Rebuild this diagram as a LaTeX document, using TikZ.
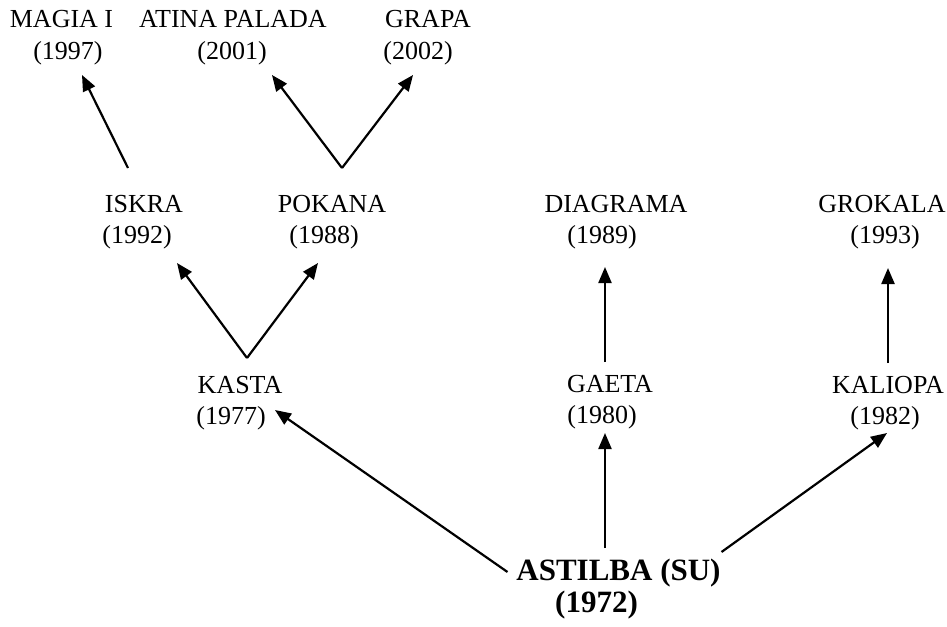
\documentclass[tikz,border=0pt]{standalone}
\usepackage{fontspec}
\setmainfont{Liberation Serif}
\usetikzlibrary{arrows.meta}

% two-line cultivar label: name, then year in parentheses;
% #3 moves the year line sideways (twice the wanted shift)
\newcommand\cultivar[3]{\begin{tabular}[t]{@{}c@{}}#1\\\hspace*{#3}(#2)\end{tabular}}

\begin{document}
\begin{tikzpicture}[x=1pt,y=-1pt,
  lbl/.style={inner sep=0pt,anchor=base,font=\fontsize{26}{31.5}\selectfont},
  rootlbl/.style={inner sep=0pt,anchor=base,font=\fontsize{31}{32}\selectfont\bfseries},
  arr/.style={line width=2.2pt,-{Triangle[length=16pt,width=13pt]}}]
\useasboundingbox (0,0) rectangle (947,626);

% top row
\node[lbl] (magia)    at (61.5,28) {\cultivar{MAGIA I}{1997}{13pt}};
\node[lbl] (atina)    at (233,28)  {\cultivar{ATINA PALADA}{2001}{-2pt}};
\node[lbl] (grapa)    at (428,28)  {\cultivar{GRAPA}{2002}{-20pt}};
% second row
\node[lbl] (iskra)    at (144,212) {\cultivar{ISKRA}{1992}{-14pt}};
\node[lbl] (pokana)   at (332,212) {\cultivar{POKANA}{1988}{-16pt}};
\node[lbl] (diagrama) at (616,212) {\cultivar{DIAGRAMA}{1989}{-28pt}};
\node[lbl] (grokala)  at (882,212) {\cultivar{GROKALA}{1993}{6pt}};
% third row
\node[lbl] (kasta)    at (240,393) {\cultivar{KASTA}{1977}{-18pt}};
\node[lbl] (gaeta)    at (610,392) {\cultivar{GAETA}{1980}{-16pt}};
\node[lbl] (kaliopa)  at (888,393) {\cultivar{KALIOPA}{1982}{-6pt}};
% parent
\node[rootlbl] (astilba) at (618.5,580) {\cultivar{ASTILBA (SU)}{1972}{-44pt}};

% descendants of ASTILBA
\draw[arr] ([shift={(-111,-8)}]astilba.base) -- ([shift={(35,17)}]kasta.base);
\draw[arr] ([shift={(-13.5,-32)}]astilba.base) -- ([shift={(-5,41)}]gaeta.base);
\draw[arr] ([shift={(103,-28)}]astilba.base) -- ([shift={(-1,40)}]kaliopa.base);

% second generation
\draw[arr] ([shift={(7,-35)}]kasta.base) -- ([shift={(33,51)}]iskra.base);
\draw[arr] ([shift={(7,-35)}]kasta.base) -- ([shift={(-14,51)}]pokana.base);
\draw[arr] ([shift={(-5,-30)}]gaeta.base) -- ([shift={(-11,55)}]diagrama.base);
\draw[arr] ([shift={(0,-30)}]kaliopa.base) -- ([shift={(6,56)}]grokala.base);

% third generation
\draw[arr] ([shift={(-16,-44)}]iskra.base) -- ([shift={(20.5,47)}]magia.base);
\draw[arr] ([shift={(10,-44)}]pokana.base) -- ([shift={(39,47)}]atina.base);
\draw[arr] ([shift={(10,-44)}]pokana.base) -- ([shift={(-15,47)}]grapa.base);
\end{tikzpicture}
\end{document}
